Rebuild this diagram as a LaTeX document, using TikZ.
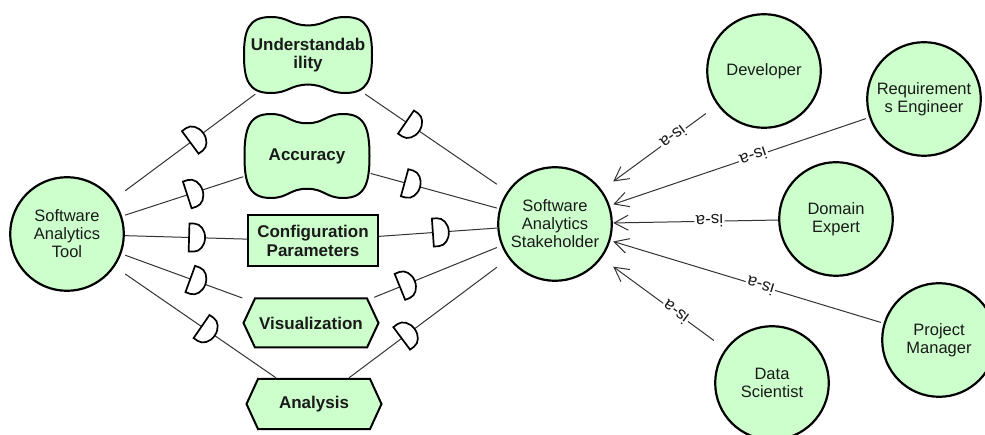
\documentclass[tikz,border=0pt]{standalone}
\usepackage{fontspec}
\setmainfont{Liberation Sans}
\usetikzlibrary{arrows.meta,decorations.markings}

\definecolor{gfill}{HTML}{CCFFCC}
\definecolor{ink}{HTML}{1A1A1A}
\definecolor{wire}{HTML}{333333}

\tikzset{
  box/.style={rectangle, inner sep=0pt, align=center, text=ink},
  goalfont/.style={font=\bfseries\fontsize{17}{18.5}\selectfont},
  % actors: circles, connected through their square bounding box
  actor/.style={box, minimum size=116pt, font=\fontsize{16.5}{18}\selectfont,
    path picture={\draw[line width=2.2pt, fill=gfill]
      (path picture bounding box.center) circle[radius=56.8pt];}},
  % text holder of a softgoal or task, sized like its outline
  goal/.style 2 args={box, goalfont, minimum width=#1pt, minimum height=#2pt},
  % softgoal outline: half width #1, half height #2
  pics/cloudgoal/.style 2 args={code={
    \draw[line width=2pt, fill=gfill, x=#1pt, y=#2pt]
      (0,0.78) .. controls (0.28,0.78) and (0.3,1) .. (0.58,1)
      .. controls (0.93,1) and (1,0.65) .. (1,0)
      .. controls (1,-0.65) and (0.93,-1) .. (0.58,-1)
      .. controls (0.3,-1) and (0.28,-0.78) .. (0,-0.78)
      .. controls (-0.28,-0.78) and (-0.3,-1) .. (-0.58,-1)
      .. controls (-0.93,-1) and (-1,-0.65) .. (-1,0)
      .. controls (-1,0.65) and (-0.93,1) .. (-0.58,1)
      .. controls (-0.3,1) and (-0.28,0.78) .. (0,0.78) -- cycle;}},
  % task outline: hexagon, half width #1, half height #2
  pics/hexgoal/.style 2 args={code={
    \draw[line width=2pt, fill=gfill, x=#1pt, y=#2pt]
      (-1,0) -- (-0.83,1) -- (0.83,1) -- (1,0) -- (0.83,-1) -- (-0.83,-1) -- cycle;}},
  resource/.style={box, goalfont, draw=black, line width=2pt, fill=gfill,
    minimum width=130pt, minimum height=51pt},
  % dependency link with its D mark
  dep/.style={draw=wire, line width=1pt, postaction={decorate},
    decoration={markings, mark=at position #1 with {
      \draw[line width=1.7pt, draw=black, fill=white]
        (-8,-14) -- (-8,14) -- (-3,14)
        arc[start angle=90, end angle=-90, x radius=11, y radius=14] -- cycle;}}},
  isa/.style={draw=wire, line width=1pt,
    -{Straight Barb[length=14pt, width=15pt]}},
  isalabel/.style={sloped, allow upside down, fill=white, inner sep=1.5pt,
    font=\fontsize{17}{17}\selectfont, text=ink}
}

\begin{document}
\begin{tikzpicture}[x=1pt, y=1pt]
  \useasboundingbox (0,0) rectangle (985,-435);
  \fill[white] (0,0) rectangle (985,-435);

  % actors
  \node[actor] (tool) at (67,-234) {Software\\Analytics\\Tool};
  \node[actor] (sh) at (555,-224) {Software\\Analytics\\Stakeholder};
  \node[actor] (dev) at (764,-71) {Developer};
  \node[actor] (req) at (924,-99) {Requirement\\s Engineer};
  \node[actor] (dom) at (836,-219) {Domain\\Expert};
  \node[actor] (pm) at (939,-340) {Project\\Manager};
  \node[actor] (ds) at (772,-383) {Data\\Scientist};

  % dependums
  \pic at (308,-55) {cloudgoal={64}{38}};
  \node[goal={130}{78}] (und) at (308,-55) {Understandab\\ility};
  \pic at (307,-156) {cloudgoal={62.5}{42}};
  \node[goal={127}{86}] (acc) at (307,-156) {Accuracy};
  \node[resource] (cfg) at (313,-241) {Configuration\\Parameters};
  \pic at (311,-323) {hexgoal={67.5}{24.5}};
  \node[goal={137}{51}] (vis) at (311,-323) {Visualization};
  \pic at (314,-404) {hexgoal={67.5}{25}};
  \node[goal={137}{52}] (ana) at (314,-404) {Analysis};

  % dependencies of the tool
  \draw[dep=0.55] (tool) -- (und);
  \draw[dep=0.59] (tool) -- (acc);
  \draw[dep=0.59] (tool) -- (cfg);
  \draw[dep=0.62] (tool) -- (vis);
  \draw[dep=0.55] (tool) -- (ana);

  % dependencies towards the stakeholder
  \draw[dep=0.36] (und) -- (sh);
  \draw[dep=0.33] (acc) -- (sh);
  \draw[dep=0.525] (cfg) -- (sh);
  \draw[dep=0.27] (vis) -- (sh);
  \draw[dep=0.40] (ana) -- (sh);

  % is-a links
  \draw[isa] (dev) -- node[isalabel, pos=0.35] {is-a} (sh);
  \draw[isa] (req) -- node[isalabel, pos=0.445] {is-a} (sh);
  \draw[isa] (dom) -- node[isalabel, pos=0.415] {is-a} (sh);
  \draw[isa] (pm) -- node[isalabel, pos=0.45] {is-a} (sh);
  \draw[isa] (ds) -- node[isalabel, pos=0.38] {is-a} (sh);
\end{tikzpicture}
\end{document}
